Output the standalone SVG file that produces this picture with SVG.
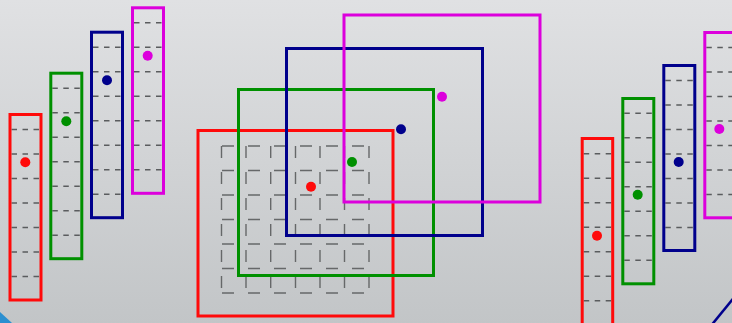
<svg xmlns="http://www.w3.org/2000/svg" xmlns:xlink="http://www.w3.org/1999/xlink" width="732" height="323" viewBox="0 0 732 323">
  <defs>
    <linearGradient id="bg" x1="0" y1="0" x2="0" y2="1">
      <stop offset="0" stop-color="#e0e1e3"/>
      <stop offset="1" stop-color="#c2c5c7"/>
    </linearGradient>
    <g id="coldash">
      <line x1="1.5" y1="15" x2="29.5" y2="15"/>
      <line x1="1.5" y1="39.5" x2="29.5" y2="39.5"/>
      <line x1="1.5" y1="64" x2="29.5" y2="64"/>
      <line x1="1.5" y1="88.5" x2="29.5" y2="88.5"/>
      <line x1="1.5" y1="113" x2="29.5" y2="113"/>
      <line x1="1.5" y1="137.5" x2="29.5" y2="137.5"/>
      <line x1="1.5" y1="162" x2="29.5" y2="162"/>
    </g>
  </defs>
  <style>
    .frame { fill: none; stroke-width: 3; }
    .red { stroke: #ff0a0a; }
    .green { stroke: #009000; }
    .blue { stroke: #00008c; }
    .magenta { stroke: #dc00dc; }
    .dred { fill: #ff0a0a; }
    .dgreen { fill: #009000; }
    .dblue { fill: #00008c; }
    .dmagenta { fill: #dc00dc; }
    .cd { stroke: #5a5c5e; stroke-width: 1.6; stroke-dasharray: 5.5 5.5; fill: none; }
    .grid { stroke: #666869; stroke-width: 1.4; stroke-dasharray: 12 14; fill: none; }
  </style>
  <rect x="0" y="0" width="732" height="323" fill="url(#bg)"/>
  <polygon points="0,312 12,323 0,323" fill="#2b8fd0"/>
  <line x1="710" y1="327" x2="736" y2="295" stroke="#00008c" stroke-width="2.5"/>

  <!-- left columns -->
  <g id="left-red">
    <use xlink:href="#coldash" class="cd" transform="translate(10,114.5)"/>
    <rect class="frame red" x="10" y="114.5" width="31" height="185.5"/>
    <circle class="dred" cx="25.3" cy="162.3" r="5"/>
  </g>
  <g id="left-green">
    <use xlink:href="#coldash" class="cd" transform="translate(50.8,73.2)"/>
    <rect class="frame green" x="50.8" y="73.2" width="31" height="185.5"/>
    <circle class="dgreen" cx="66.3" cy="121.3" r="5"/>
  </g>
  <g id="left-blue">
    <use xlink:href="#coldash" class="cd" transform="translate(91.5,32.2)"/>
    <rect class="frame blue" x="91.5" y="32.2" width="31" height="185.5"/>
    <circle class="dblue" cx="107" cy="80.3" r="5"/>
  </g>
  <g id="left-magenta">
    <use xlink:href="#coldash" class="cd" transform="translate(132.5,7.8)"/>
    <rect class="frame magenta" x="132.5" y="7.8" width="31" height="185.5"/>
    <circle class="dmagenta" cx="147.7" cy="55.7" r="5"/>
  </g>

  <!-- center grid -->
  <g id="grid" class="grid">
    <line x1="222" y1="146" x2="369" y2="146"/>
    <line x1="222" y1="170.5" x2="369" y2="170.5"/>
    <line x1="222" y1="195" x2="369" y2="195"/>
    <line x1="222" y1="219.5" x2="369" y2="219.5"/>
    <line x1="222" y1="244" x2="369" y2="244"/>
    <line x1="222" y1="268.5" x2="369" y2="268.5"/>
    <line x1="222" y1="293" x2="369" y2="293"/>
    <line x1="221.5" y1="146" x2="221.5" y2="293"/>
    <line x1="246" y1="146" x2="246" y2="293"/>
    <line x1="270.7" y1="146" x2="270.7" y2="293"/>
    <line x1="295.5" y1="146" x2="295.5" y2="293"/>
    <line x1="320" y1="146" x2="320" y2="293"/>
    <line x1="344.5" y1="146" x2="344.5" y2="293"/>
    <line x1="369" y1="146" x2="369" y2="293"/>
  </g>

  <!-- center squares -->
  <g id="sq-red"><rect class="frame red" x="198" y="130.5" width="195" height="185.5"/></g>
  <g id="sq-green"><rect class="frame green" x="238.5" y="89.5" width="195" height="186"/></g>
  <g id="sq-blue"><rect class="frame blue" x="286.5" y="48.5" width="196" height="187"/></g>
  <g id="sq-magenta"><rect class="frame magenta" x="344" y="15" width="196" height="187"/></g>
  <g id="sq-dots">
    <circle class="dred" cx="311" cy="186.7" r="5"/>
    <circle class="dgreen" cx="352" cy="162" r="5"/>
    <circle class="dblue" cx="401" cy="129.3" r="5"/>
    <circle class="dmagenta" cx="442" cy="96.7" r="5"/>
  </g>

  <!-- right columns -->
  <g id="right-red">
    <use xlink:href="#coldash" class="cd" transform="translate(582.2,138.8)"/>
    <rect class="frame red" x="582.2" y="138.5" width="30.5" height="190"/>
    <circle class="dred" cx="597" cy="235.7" r="5"/>
  </g>
  <g id="right-green">
    <use xlink:href="#coldash" class="cd" transform="translate(622.8,98.3)"/>
    <rect class="frame green" x="622.8" y="98.5" width="31" height="185.3"/>
    <circle class="dgreen" cx="637.7" cy="194.7" r="5"/>
  </g>
  <g id="right-blue">
    <use xlink:href="#coldash" class="cd" transform="translate(663.8,65.5)"/>
    <rect class="frame blue" x="663.8" y="65.5" width="31" height="185"/>
    <circle class="dblue" cx="678.7" cy="162" r="5"/>
  </g>
  <g id="right-magenta">
    <use xlink:href="#coldash" class="cd" transform="translate(704.8,32.5)"/>
    <rect class="frame magenta" x="704.8" y="32.5" width="31" height="185.3"/>
    <circle class="dmagenta" cx="719.3" cy="129" r="5"/>
  </g>
</svg>
